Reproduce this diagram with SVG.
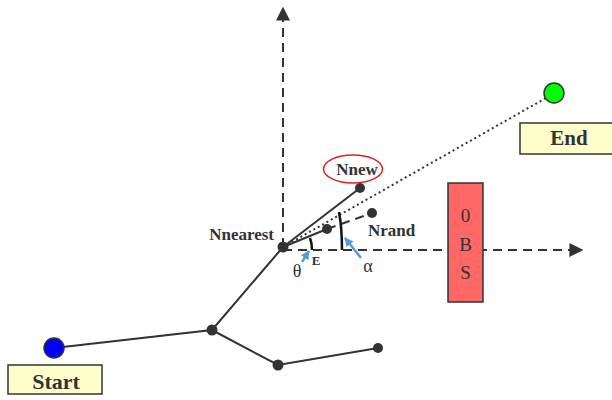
<svg xmlns="http://www.w3.org/2000/svg" width="612" height="400" viewBox="0 0 612 400">
<defs>
<style>
.edge{stroke:#333;stroke-width:2;fill:none}
.dash{stroke:#333;stroke-width:2;fill:none;stroke-dasharray:9,6}
.dot{stroke:#333;stroke-width:2;fill:none;stroke-dasharray:2,3}
.node{fill:#333}
.lbl{font-family:"Liberation Serif",serif;font-weight:bold;fill:#333}
.box{fill:#ffffcc;stroke:#333;stroke-width:1.5}
.blue{stroke:#5b9bd5;stroke-width:2.5;fill:none}
</style>
<marker id="ah" viewBox="0 0 10 10" refX="9" refY="5" markerWidth="14" markerHeight="14" markerUnits="userSpaceOnUse" orient="auto"><path d="M0,0L10,5L0,10z" fill="#333"/></marker>
<marker id="bh" viewBox="0 0 10 10" refX="9" refY="5" markerWidth="9" markerHeight="9" markerUnits="userSpaceOnUse" orient="auto"><path d="M0,0L10,5L0,10z" fill="#5b9bd5"/></marker>
</defs>
<g id="connectors">
<path class="dash" d="M283,247V8" marker-end="url(#ah)"/>
<path class="dash" d="M283,250H582" marker-end="url(#ah)"/>
<path class="dot" d="M283,247L553,94"/>
<path class="edge" d="M283,247L360,188"/>
<path class="edge" d="M283,247L327,229"/>
<path class="dash" d="M327,229L372,213"/>
<path class="edge" d="M54,348L212,330L283,247"/>
<path class="edge" d="M212,330L278,365L378,348"/>
<path d="M312,250Q312,243 310,238" stroke="#111" stroke-width="2.5" fill="none"/>
<path d="M342,250Q342,228 339,212" stroke="#111" stroke-width="2.5" fill="none"/>
<path class="blue" d="M302,262L309,251" marker-end="url(#bh)"/>
<path class="blue" d="M361,258L345,238" marker-end="url(#bh)"/>
</g>
<g id="nnearest"><circle class="node" cx="283" cy="247" r="5.5"/><text class="lbl" x="274" y="240" font-size="17" text-anchor="end">Nnearest</text></g>
<g id="nnew"><circle class="node" cx="360" cy="188" r="5"/><ellipse cx="353" cy="169" rx="29.5" ry="14" fill="none" stroke="#e02020" stroke-width="1.5"/><text class="lbl" x="357" y="175" font-size="17" text-anchor="middle">Nnew</text></g>
<g id="nmid"><circle class="node" cx="327" cy="229" r="5"/></g>
<g id="nrand"><circle class="node" cx="372" cy="213" r="5"/><text class="lbl" x="368" y="236" font-size="17">Nrand</text></g>
<g id="angles">
<text x="297" y="277" font-family="Liberation Serif,serif" font-size="18" fill="#333" text-anchor="middle">θ</text>
<text class="lbl" x="316" y="265" font-size="13" text-anchor="middle">E</text>
<text x="368" y="272" font-family="Liberation Serif,serif" font-size="18" fill="#333" text-anchor="middle">α</text>
</g>
<g id="obs"><rect x="448" y="183" width="35" height="119" fill="#ff6666" stroke="#333" stroke-width="1.5"/>
<text x="465.5" y="222" font-family="Liberation Serif,serif" font-size="19" fill="#333" text-anchor="middle">0</text>
<text x="465.5" y="251" font-family="Liberation Serif,serif" font-size="19" fill="#333" text-anchor="middle">B</text>
<text x="465.5" y="279" font-family="Liberation Serif,serif" font-size="19" fill="#333" text-anchor="middle">S</text></g>
<g id="start"><circle cx="54" cy="348" r="10" fill="#0000ff" stroke="#333" stroke-width="1.5"/><rect class="box" x="8" y="365" width="94" height="29"/><text class="lbl" x="56" y="389" font-size="22" text-anchor="middle">Start</text></g>
<g id="end"><circle cx="554" cy="93" r="10" fill="#00ff00" stroke="#333" stroke-width="1.5"/><rect class="box" x="520" y="123" width="94" height="31"/><text class="lbl" x="569" y="145" font-size="21" text-anchor="middle">End</text></g>
<g id="tree"><circle class="node" cx="212" cy="330" r="5.5"/><circle class="node" cx="278" cy="365" r="5.5"/><circle class="node" cx="378" cy="348" r="5"/></g>
</svg>
